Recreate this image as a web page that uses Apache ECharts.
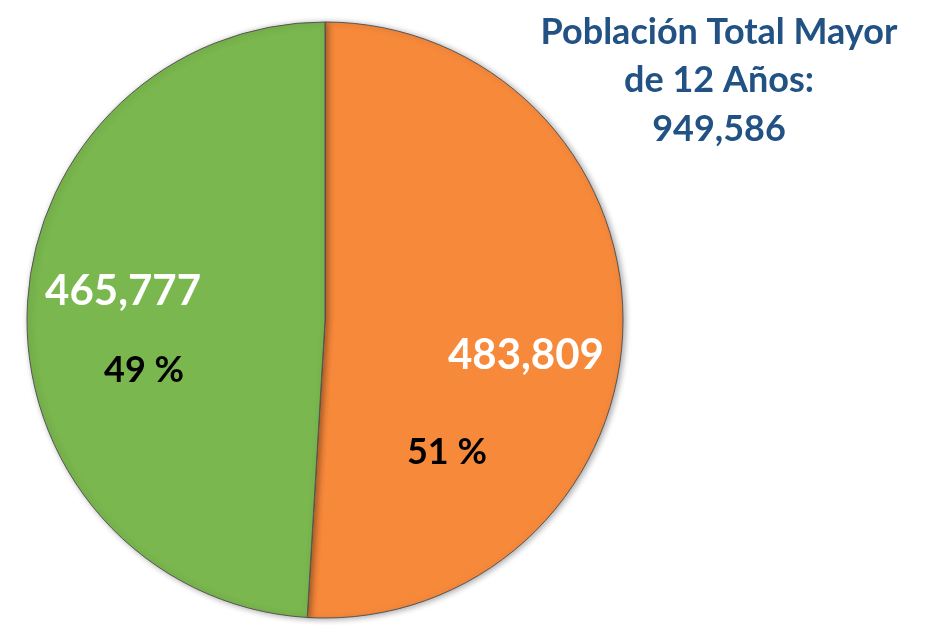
<!DOCTYPE html>
<html>
<head>
<meta charset="utf-8">
<script src="https://cdn.jsdelivr.net/npm/echarts@6/dist/echarts.min.js"></script>
<style>html,body{margin:0;padding:0;background:#fff;}#c{width:928px;height:625px;}</style>
</head>
<body>
<div id="c"></div>
<script>
const categories = ['Hombres', 'Mujeres'];
const values = [483809, 465777];
const titleLines = ['Población Total Mayor', 'de 12 Años:', '949,586'];

const colors = ['#F7893B', '#7AB74E'];
const valueOffsets = [[49, 31], [-50, -24]];
const pctOffsets = [[-30, 128], [-29, 55]];

const data = categories.map((c, i) => ({ name: c, value: values[i], itemStyle: { color: colors[i] } }));
const fmt = v => v.toLocaleString('en-US');

const chart = echarts.init(document.getElementById('c'), null, { renderer: 'canvas' });
chart.setOption({
  animation: false,
  title: {
    text: titleLines.join('\n'),
    left: 714,
    top: 3,
    textAlign: 'center',
    textStyle: { color: '#215283', fontFamily: 'Lato', fontWeight: 'bold', fontSize: 36, lineHeight: 48.5 }
  },
  series: [
    {
      type: 'pie',
      center: [325, 320],
      radius: 298,
      startAngle: 90,
      clockwise: true,
      data: data,
      itemStyle: {
        borderColor: '#555',
        borderWidth: 1,
        shadowBlur: 6,
        shadowColor: 'rgba(0,0,0,0.35)',
        shadowOffsetX: 2,
        shadowOffsetY: 1
      },
      label: {
        show: true,
        position: 'inside',
        formatter: p => fmt(p.value),
        color: '#fff',
        fontFamily: 'Lato',
        fontWeight: 'bold',
        fontSize: 42
      },
      labelLayout: p => ({ dx: valueOffsets[p.dataIndex][0], dy: valueOffsets[p.dataIndex][1] }),
      labelLine: { show: false },
      emphasis: { disabled: true }
    },
    {
      type: 'pie',
      center: [325, 320],
      radius: 298,
      startAngle: 90,
      clockwise: true,
      silent: true,
      data: data.map(d => ({ name: d.name, value: d.value })),
      itemStyle: { color: 'rgba(0,0,0,0)', borderWidth: 0 },
      label: {
        show: true,
        position: 'inside',
        formatter: p => Math.round(p.percent) + ' %',
        color: '#000',
        fontFamily: 'Lato',
        fontWeight: 'bold',
        fontSize: 36
      },
      labelLayout: p => ({ dx: pctOffsets[p.dataIndex][0], dy: pctOffsets[p.dataIndex][1] }),
      labelLine: { show: false },
      emphasis: { disabled: true }
    }
  ]
});
</script>
</body>
</html>
